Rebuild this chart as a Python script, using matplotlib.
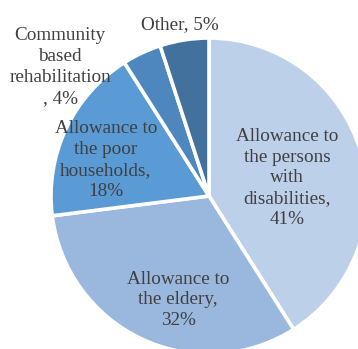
import matplotlib
matplotlib.use("Agg")
import matplotlib.pyplot as plt

# Budget shares by programme
categories = [
    "Allowance to\nthe persons\nwith\ndisabilities,\n41%",
    "Allowance to\nthe eldery,\n32%",
    "Allowance to\nthe poor\nhouseholds,\n18%",
    "Community\nbased\nrehabilitation\n, 4%",
    "Other, 5%",
]
shares = [41, 32, 18, 4, 5]
colors = ["#BDD0E9", "#9AB8DE", "#5A9BD5", "#4D87BD", "#41719C"]

# label anchor points in data units (pie radius = 1)
label_xy = [(0.494, 0.114), (-0.196, -0.658), (-0.652, 0.228),
            (-0.943, 0.816), (-0.184, 1.082)]

W, H = 358, 349
fig = plt.figure(figsize=(W / 100, H / 100), dpi=100)
cx, cy, r = 209, 196, 158
ax = fig.add_axes([(cx - r) / W, (H - cy - r) / H, 2 * r / W, 2 * r / H])

ax.pie(shares, colors=colors, startangle=90, counterclock=False,
       radius=1.0, wedgeprops=dict(edgecolor="white", linewidth=2.6))
ax.set_xlim(-1, 1)
ax.set_ylim(-1, 1)
ax.set_aspect("equal")
ax.axis("off")

for text, (x, y) in zip(categories, label_xy):
    ax.text(x, y, text, ha="center", va="center", fontsize=13.8,
            family="Liberation Serif", color="#404040", linespacing=1.3,
            clip_on=False)

fig.savefig("out.png", dpi=100)
